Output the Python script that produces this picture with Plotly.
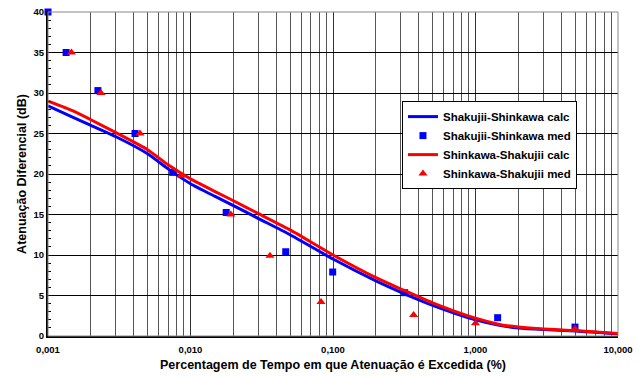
import plotly.graph_objects as go

# Measured points
sk_med_x = [0.001, 0.00134, 0.00224, 0.00408, 0.0075, 0.0178, 0.0466, 0.0995, 0.318, 1.43, 4.99]
sk_med_y = [40.0, 35.0, 30.3, 25.0, 20.2, 15.25, 10.4, 7.9, 5.35, 2.26, 1.1]
ks_med_x = [0.00146, 0.00235, 0.00442, 0.00858, 0.0192, 0.0361, 0.0824, 0.368, 1.0, 4.99]
ks_med_y = [35.0, 30.0, 25.0, 19.8, 15.0, 9.9, 4.2, 2.6, 1.57, 0.9]

# Calculated curves
calc_x = [0.001, 0.0015, 0.002, 0.003, 0.005, 0.007, 0.01, 0.015, 0.02, 0.03, 0.05,
          0.1, 0.2, 0.3, 0.5, 1.0, 1.5, 2.0, 3.0, 5.0, 7.0, 10.0]
sk_calc_y = [28.4, 27.0, 26.0, 24.6, 22.5, 20.6, 18.8, 17.2, 16.1, 14.5, 12.5,
             9.5, 6.8, 5.4, 3.8, 2.0, 1.3, 1.0, 0.8, 0.62, 0.45, 0.25]
ks_calc_y = [29.0, 27.8, 26.7, 25.1, 23.0, 21.1, 19.4, 17.8, 16.7, 15.1, 13.1,
             10.0, 7.2, 5.8, 4.1, 2.2, 1.4, 1.1, 0.85, 0.68, 0.5, 0.3]

x_tick_vals = [0.001, 0.01, 0.1, 1.0, 10.0]
x_tick_text = ["0,001", "0,010", "0,100", "1,000", "10,000"]

FONT = "Liberation Sans, Arial, sans-serif"

fig = go.Figure()
fig.add_trace(go.Scatter(x=calc_x, y=sk_calc_y, mode="lines", name="Shakujii-Shinkawa calc",
                         line=dict(color="#0000ff", width=3, shape="spline", smoothing=0.6)))
fig.add_trace(go.Scatter(x=sk_med_x, y=sk_med_y, mode="markers", name="Shakujii-Shinkawa med",
                         marker=dict(symbol="square", color="#0000ff", size=7), cliponaxis=False))
fig.add_trace(go.Scatter(x=calc_x, y=ks_calc_y, mode="lines", name="Shinkawa-Shakujii calc",
                         line=dict(color="#ff0000", width=3, shape="spline", smoothing=0.6)))
fig.add_trace(go.Scatter(x=ks_med_x, y=ks_med_y, mode="markers", name="Shinkawa-Shakujii med",
                         marker=dict(symbol="triangle-up", color="#ff0000", size=8), cliponaxis=False))

# vertical grid at every 1..9 multiple
grid_vals = []
for d in [0.001, 0.01, 0.1, 1.0]:
    for m in range(1, 10):
        grid_vals.append(d * m)
grid_vals.append(10.0)

fig.update_layout(
    width=642, height=376,
    margin=dict(l=48, r=24, t=12, b=40),
    paper_bgcolor="white", plot_bgcolor="white",
    font=dict(family=FONT, size=10, color="black", weight="bold"),
    showlegend=True,
    legend=dict(x=0.621, y=0.725, xanchor="left", yanchor="top",
                bordercolor="black", borderwidth=1, bgcolor="white",
                font=dict(family=FONT, size=11.5, weight="bold"),
                tracegroupgap=0, itemwidth=30),
    xaxis=dict(type="log", range=[-3, 1], automargin=False,
               tickvals=x_tick_vals, ticktext=x_tick_text,
               tickfont=dict(size=9.5, family=FONT, weight="bold"),
               ticklabelstandoff=4,
               showgrid=True, gridcolor="#333333", gridwidth=1,
               minor=dict(tickvals=grid_vals, showgrid=True, gridcolor="#555555", gridwidth=1, ticks=""),
               showline=True, linecolor="black", linewidth=2,
               ticks="", zeroline=False,
               title=dict(text="Percentagem de Tempo em que Atenuação é Excedida (%)",
                          font=dict(size=12.5, family=FONT, weight="bold"), standoff=6)),
    yaxis=dict(range=[0, 40], dtick=5, tick0=0, automargin=False,
               tickfont=dict(size=9.5, family=FONT, weight="bold"),
               showgrid=True, gridcolor="black", gridwidth=1,
               showline=True, linecolor="black", linewidth=2,
               ticks="inside", ticklen=4, tickcolor="black",
               minor=dict(dtick=1, ticks="inside", ticklen=3, tickcolor="black", showgrid=False),
               zeroline=False,
               title=dict(text="Atenuação Diferencial (dB)",
                          font=dict(size=12.5, family=FONT, weight="bold"), standoff=4)),
)

fig.add_shape(type="rect", xref="paper", yref="paper", x0=0, y0=0, x1=1, y1=1,
              line=dict(color="#888888", width=1), layer="above")

fig.write_html("out.html")
